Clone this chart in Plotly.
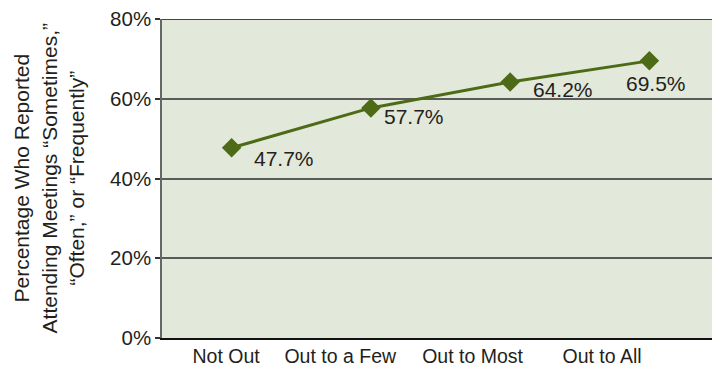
import plotly.graph_objects as go

categories = ["Not Out", "Out to a Few", "Out to Most", "Out to All"]
values = [47.7, 57.7, 64.2, 69.5]
value_labels = ["47.7%", "57.7%", "64.2%", "69.5%"]
y_ticks = [0, 20, 40, 60, 80]
y_tick_labels = ["0%", "20%", "40%", "60%", "80%"]
# label placement offsets (pixels) for data labels
label_dx = [20, 11, 21, -25]
label_dy = [-11, -9, -7, -23]
# tick label shifts (category units) to mimic reference label placement
tick_shift = [-0.04, -0.22, -0.27, -0.34]

green = "#4d6b16"
font = "Liberation Sans, Arial, Helvetica, sans-serif"

xs = list(range(len(categories)))

fig = go.Figure()
fig.add_trace(go.Scatter(
    x=xs, y=values, mode="lines+markers",
    line=dict(color=green, width=3),
    marker=dict(symbol="diamond", size=15, color=green),
    hoverinfo="skip", showlegend=False,
))

for i, (v, t) in enumerate(zip(values, value_labels)):
    fig.add_annotation(
        x=xs[i], y=v, text=t, showarrow=False, xref="x", yref="y",
        xanchor="left", yanchor="middle", xshift=label_dx[i], yshift=label_dy[i],
        font=dict(family=font, size=21, color="#231f20"),
    )

fig.add_annotation(
    text="Percentage Who Reported<br>Attending Meetings \u201cSometimes,\u201d<br>\u201cOften,\u201d or \u201cFrequently\u201d",
    xref="paper", yref="paper", x=-0.203, y=0.5, textangle=-90,
    showarrow=False, xanchor="center", yanchor="middle",
    font=dict(family=font, size=21, color="#231f20"),
)

fig.update_layout(
    width=720, height=375,
    margin=dict(l=154, r=9, t=11, b=45, autoexpand=False),
    paper_bgcolor="white",
    plot_bgcolor="#e2e8da",
    font=dict(family=font, size=19.5, color="#231f20"),
    xaxis=dict(
        range=[-0.5, 3.5],
        tickvals=[x + s for x, s in zip(xs, tick_shift)],
        ticktext=categories,
        showgrid=False, zeroline=False,
        showline=True, linecolor="#111", linewidth=1.5,
        ticks="", tickfont=dict(size=19.5),
        automargin=False,
        fixedrange=True,
    ),
    yaxis=dict(
        range=[0, 80],
        tickvals=y_ticks, ticktext=y_tick_labels,
        showgrid=True, gridcolor="#5a5a5a", gridwidth=1.5,
        zeroline=False,
        showline=True, linecolor="#666", linewidth=1.5,
        ticks="outside", ticklen=5, tickcolor="#333", tickwidth=1.5,
        tickfont=dict(size=20.5),
        ticklabeloverflow="allow",
        automargin=False,
        fixedrange=True,
    ),
)
fig.add_shape(type="line", xref="paper", yref="y", x0=0, x1=1, y0=80, y1=80,
              line=dict(color="#111", width=1.5))

fig.write_html("out.html")
